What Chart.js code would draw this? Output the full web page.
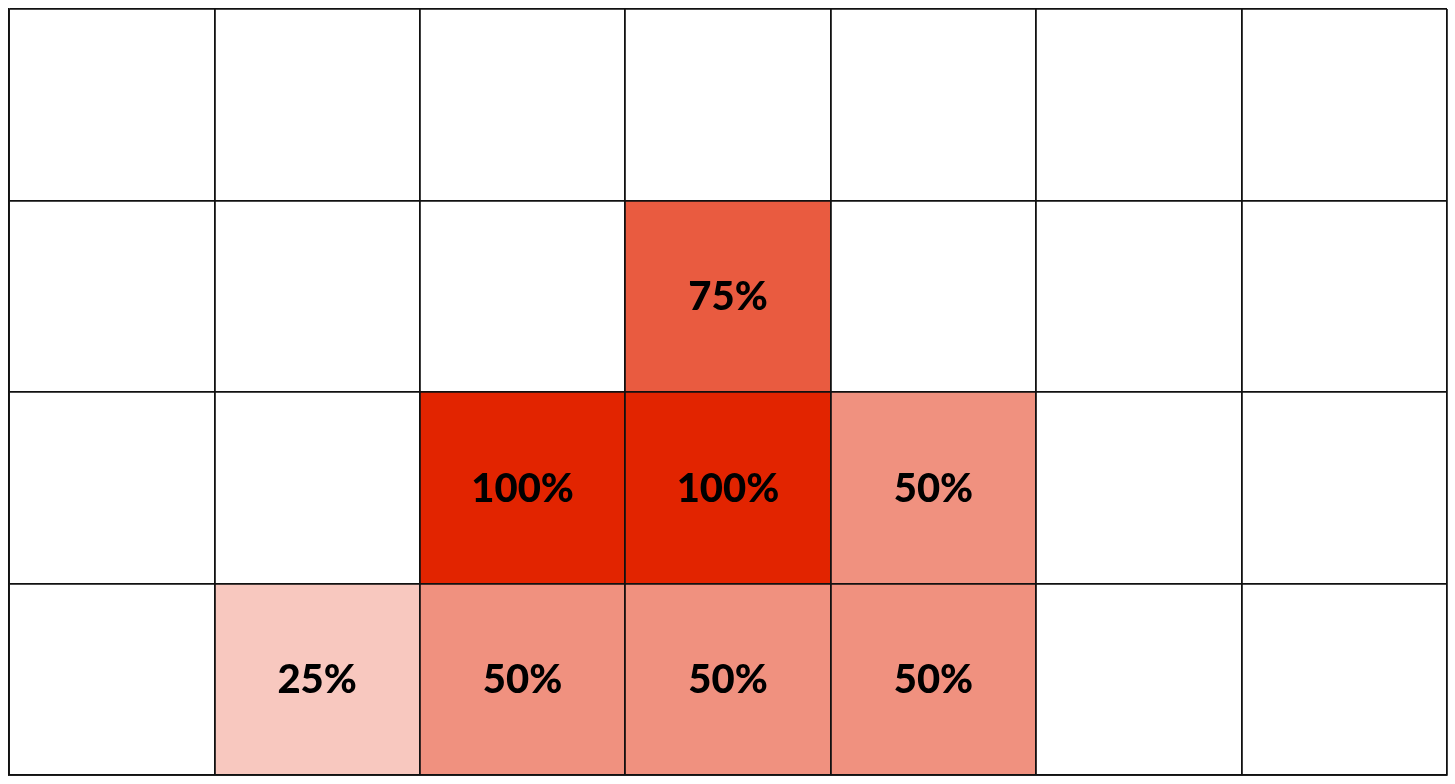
<!DOCTYPE html>
<html>
<head>
<meta charset="utf-8">
<script src="https://cdn.jsdelivr.net/npm/chart.js@4/dist/chart.umd.min.js"></script>
<style>
  html, body { margin: 0; padding: 0; background: #ffffff; }
  #wrap { width: 1455px; height: 784px; }
</style>
</head>
<body>
<div id="wrap"><canvas id="c" width="1455" height="784"></canvas></div>
<script>
// Columns of the grid (no visible labels in the reference)
const columns = ['C1', 'C2', 'C3', 'C4', 'C5', 'C6', 'C7'];
// Rows from top to bottom (no visible labels)
const rows = ['R1', 'R2', 'R3', 'R4'];
// Percent values per row (0 = empty cell)
const row1Values = [0, 0, 0, 0, 0, 0, 0];
const row2Values = [0, 0, 0, 75, 0, 0, 0];
const row3Values = [0, 0, 100, 100, 50, 0, 0];
const row4Values = [0, 25, 50, 50, 50, 0, 0];
const rowValues = [row1Values, row2Values, row3Values, row4Values];

const datasets = rowValues.map((vals, r) => ({
  label: rows[r],
  data: vals.map(v => v > 0 ? [r, r + 1] : null),
  values: vals,
  backgroundColor: vals.map(v => 'rgba(226,36,0,' + (v / 100) + ')'),
  borderWidth: 0,
  barPercentage: 1,
  categoryPercentage: 1,
  grouped: false
}));

const labelPlugin = {
  id: 'cellLabels',
  afterDraw(chart) {
    const ctx = chart.ctx;
    ctx.save();
    ctx.fillStyle = '#000';
    ctx.font = '900 40px Lato, "Noto Sans", sans-serif';
    ctx.textAlign = 'center';
    ctx.textBaseline = 'middle';
    chart.data.datasets.forEach((ds, di) => {
      const meta = chart.getDatasetMeta(di);
      meta.data.forEach((el, i) => {
        const v = ds.values[i];
        if (!v) return;
        const cx = el.x;
        const cy = (el.y + el.base) / 2;
        ctx.fillText(v + '%', cx, cy + 1);
      });
    });
    ctx.restore();
  }
};

const gridStyle = { color: '#111', lineWidth: 1.8, drawTicks: false, z: 1 };

new Chart(document.getElementById('c'), {
  type: 'bar',
  data: { labels: columns, datasets },
  options: {
    responsive: false,
    animation: false,
    events: [],
    layout: { padding: { left: 9, right: 8, top: 9, bottom: 9 } },
    plugins: { legend: { display: false }, tooltip: { enabled: false } },
    scales: {
      x: {
        type: 'category',
        offset: true,
        grid: Object.assign({ offset: true }, gridStyle),
        ticks: { display: false },
        border: { color: '#111', width: 1.8, z: 1 }
      },
      y: {
        type: 'linear',
        min: 0,
        max: rows.length,
        reverse: true,
        grid: gridStyle,
        ticks: { display: false, stepSize: 1 },
        border: { color: '#111', width: 1.8, z: 1 }
      }
    }
  },
  plugins: [labelPlugin]
});
</script>
</body>
</html>
